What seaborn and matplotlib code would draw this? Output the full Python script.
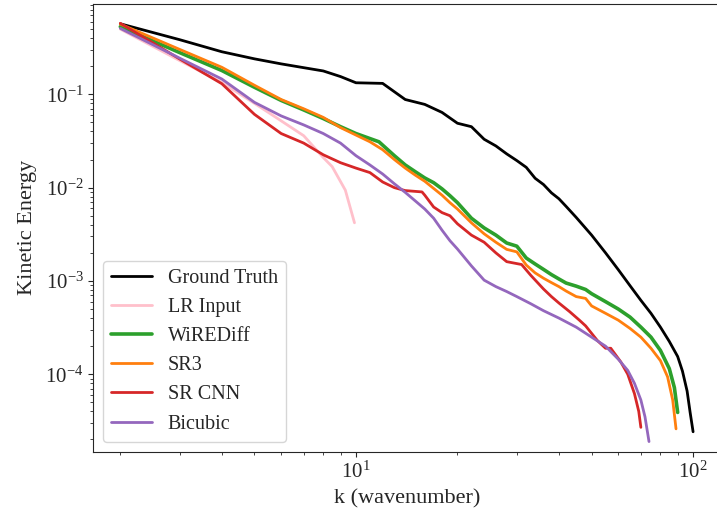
import matplotlib
matplotlib.use("Agg")
import matplotlib.pyplot as plt
import seaborn as sns
import pandas as pd

# ---------------- data ----------------
k_gt = [2, 3, 4, 5, 6, 7, 8, 9, 10, 12, 14, 16, 18, 20, 22, 24, 26, 28, 30, 32, 34, 36,
        38, 40, 42, 45, 50, 55, 60, 65, 70, 75, 80, 85, 90, 93, 96, 98, 100]
e_gt = [0.57, 0.385, 0.286, 0.24, 0.212, 0.193, 0.178, 0.155, 0.133, 0.131, 0.088, 0.078,
        0.064, 0.049, 0.045, 0.033, 0.028, 0.023, 0.0195, 0.0165, 0.0126, 0.0108, 0.0088,
        0.0076, 0.0063, 0.0048, 0.0031, 0.0020, 0.00132, 0.00089, 0.00062, 0.00045,
        0.00032, 0.000225, 0.000155, 0.000108, 6.6e-5, 3.9e-5, 2.42e-5]

k_lr = [2, 3, 4, 5, 6, 7, 8, 8.5, 9.3, 9.9]
e_lr = [0.50, 0.23, 0.134, 0.08, 0.052, 0.036, 0.021, 0.0168, 0.0094, 0.0042]

k_wd = [2, 3, 4, 5, 6, 7, 8, 9, 10, 11.7, 13, 14, 15, 16, 17, 18, 19, 20, 22, 24, 26, 28,
        30, 32, 34, 36, 38, 40, 42, 45, 48, 50, 55, 60, 65, 70, 75, 80, 85, 88, 90]
e_wd = [0.53, 0.28, 0.18, 0.119, 0.086, 0.068, 0.055, 0.045, 0.038, 0.031, 0.022, 0.0175,
        0.0148, 0.0127, 0.0113, 0.0097, 0.0082, 0.0069, 0.0047, 0.0037, 0.0031, 0.00255,
        0.00236, 0.00176, 0.00152, 0.00133, 0.00117, 0.00105, 0.00095, 0.00088, 0.00081,
        0.00073, 0.00060, 0.00050, 0.00041, 0.00032, 0.00025, 0.00018, 0.000115, 7.2e-5,
        3.9e-5]

k_sr3 = [2, 3, 4, 5, 6, 7, 8, 9, 10, 11, 12, 13, 14, 15, 16, 18, 19, 20, 22, 24, 26, 28,
         30, 32, 34, 36, 38, 40, 42, 45, 48, 50, 55, 60, 65, 70, 75, 80, 84, 87, 89]
e_sr3 = [0.566, 0.303, 0.195, 0.125, 0.088, 0.070, 0.0566, 0.044, 0.0366, 0.031, 0.0255,
         0.020, 0.0162, 0.0136, 0.0117, 0.0083, 0.0069, 0.0059, 0.0042, 0.0032, 0.0026,
         0.00218, 0.00205, 0.00148, 0.00122, 0.00107, 0.00096, 0.00087, 0.00078, 0.00068,
         0.00065, 0.00054, 0.00045, 0.00038, 0.00031, 0.00025, 0.00019, 0.00014, 9.4e-5,
         5.3e-5, 2.6e-5]

k_cnn = [2, 3, 4, 5, 6, 7, 8, 9, 10, 11, 12, 13, 14, 15.7, 16, 17, 18, 19, 20, 22, 24, 26,
         28, 31, 33, 36, 38, 40, 43, 46, 48, 52, 55, 57, 61, 64, 67, 69, 70]
e_cnn = [0.577, 0.239, 0.13, 0.061, 0.038, 0.030, 0.0225, 0.0185, 0.0162, 0.0145, 0.0115,
         0.0100, 0.0093, 0.0090, 0.0083, 0.0062, 0.0054, 0.0050, 0.0041, 0.0031, 0.0026,
         0.0020, 0.00161, 0.00150, 0.00115, 0.00082, 0.00068, 0.00058, 0.00047, 0.00038,
         0.00033, 0.00023, 0.00019, 0.00019, 0.000136, 0.0001, 6.2e-5, 4.0e-5, 2.7e-5]

k_bic = [2, 3, 4, 5, 6, 7, 8, 9, 10, 11, 12, 13, 14, 15, 16, 17, 18, 19, 20, 22, 24, 26,
         28, 30, 33, 36, 40, 45, 50, 55, 60, 64, 67, 70, 72, 74]
e_bic = [0.509, 0.244, 0.146, 0.082, 0.0587, 0.047, 0.038, 0.030, 0.022, 0.0175, 0.014,
         0.011, 0.0089, 0.0072, 0.0059, 0.0047, 0.0035, 0.0027, 0.0022, 0.00145, 0.00102,
         0.00087, 0.00077, 0.00068, 0.00057, 0.00048, 0.00040, 0.00032, 0.00025, 0.00020,
         0.000145, 0.00011, 8.0e-5, 5.3e-5, 3.5e-5, 1.9e-5]

series = [
    ("Ground Truth", k_gt, e_gt, "black", 2.0),
    ("LR Input", k_lr, e_lr, "pink", 2.0),
    ("WiREDiff", k_wd, e_wd, "#2ca02c", 2.6),
    ("SR3", k_sr3, e_sr3, "#ff7f0e", 2.0),
    ("SR CNN", k_cnn, e_cnn, "#d62728", 2.0),
    ("Bicubic", k_bic, e_bic, "#9467bd", 2.0),
]

# ---------------- style ----------------
sns.set_style("ticks")
plt.rcParams["font.family"] = ["Liberation Serif", "DejaVu Serif"]
plt.rcParams["mathtext.fontset"] = "custom"
plt.rcParams["mathtext.rm"] = "Liberation Serif"
plt.rcParams["mathtext.it"] = "Liberation Serif:italic"
plt.rcParams["mathtext.bf"] = "Liberation Serif:bold"
plt.rcParams["axes.unicode_minus"] = False

fig = plt.figure(figsize=(7.17, 5.18), dpi=100)
ax = fig.add_axes([93.3 / 717, (518 - 451.7) / 518, (721 - 93.3) / 717, (451.7 - 4) / 518])

for name, k, e, col, lw in series:
    df = pd.DataFrame({"k": k, "E": e})
    sns.lineplot(data=df, x="k", y="E", ax=ax, color=col, linewidth=lw, label=name,
                 estimator=None, sort=False)

ax.set_xscale("log")
ax.set_yscale("log")
ax.set_xlim(1.663, 121)
ax.set_ylim(1.48e-5, 0.929)
ax.spines["right"].set_visible(False)

ax.set_xlabel("k (wavenumber)", fontsize=16, labelpad=5)
ax.set_ylabel("Kinetic Energy", fontsize=16, labelpad=6)
ax.tick_params(axis="both", which="major", labelsize=15)

ax.legend(loc="lower left", fontsize=14.5, frameon=True, labelspacing=0.5)

fig.savefig("out.png", dpi=100)
